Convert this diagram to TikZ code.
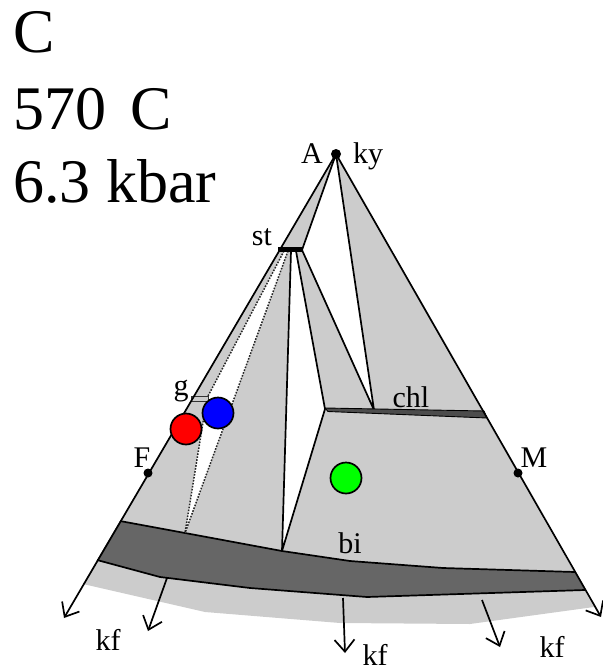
\documentclass[tikz,border=0pt]{standalone}
\usepackage{fontspec}
\setmainfont{Liberation Serif}
\usetikzlibrary{arrows.meta}
\definecolor{lg}{HTML}{CCCCCC}
\definecolor{dg}{HTML}{666666}
\begin{document}
\begin{tikzpicture}[x=1pt,y=-1pt,
  thinline/.style={line width=1.7pt, black},
  arr/.style={line width=1.7pt, -{Straight Barb[length=12pt,width=20pt]}},
  dots/.style={line width=1.5pt, dash pattern=on 1.6pt off 1.4pt, black!85},
  lab/.style={font=\fontsize{30}{30}\selectfont, anchor=base, inner sep=0pt},
  big/.style={font=\fontsize{62}{62}\selectfont, anchor=base west, inner sep=0pt},
  ball/.style={circle, draw=black, line width=1.7pt, minimum size=31pt, inner sep=0pt},
  pdot/.style={circle, fill=black, inner sep=0pt, minimum size=9pt}]
\useasboundingbox (0,0) rectangle (603,670);
% coordinates
\coordinate (A) at (336,154);
\coordinate (Ltip) at (64,618);
\coordinate (Rtip) at (601,617);
\coordinate (stR) at (302,250);
\coordinate (s1) at (291,251);
\coordinate (s2) at (296,251);
\coordinate (d1) at (284,251);
\coordinate (d2) at (288,251);
\coordinate (gR) at (207,398);
\coordinate (chlL) at (325,409);
\coordinate (chlM) at (374,410);
\coordinate (b1) at (185,533);
\coordinate (b2) at (282,551);
\coordinate (a1s) at (167,578);
\coordinate (a1e) at (148,631);
\coordinate (a2s) at (343,598);
\coordinate (a2e) at (345,653);
\coordinate (a3s) at (482,600);
\coordinate (a3e) at (500,647);
% light gray field
\fill[lg] (A) -- (594,607) -- (470,624) -- (340,623) -- (205,612) -- (83,584) -- cycle;
% dark band
\fill[dg] (120,521) -- (b1) -- (b2) -- (350,561) -- (443,568) -- (575,572) -- (585,590) -- (367,597) -- (250,588) -- (160,577) -- (97,560) -- cycle;
\draw[thinline] (120,521) -- (b1) -- (b2) -- (350,561) -- (443,568) -- (575,572);
\draw[thinline] (97,560) -- (160,577) -- (250,588) -- (367,597) -- (585,590);
% white fields
\fill[white] (A) -- (stR) -- (chlM) -- cycle;
\fill[white] (s1) -- (b2) -- (chlL) -- (s2) -- cycle;
\fill[white] (d1) -- (gR) -- (b1) -- (d2) -- cycle;
% tie lines
\draw[thinline] (A) -- (stR) (A) -- (chlM) (stR) -- (chlM) (s1) -- (b2) (s2) -- (chlL) -- (b2);
\draw[dots] (d1) -- (gR) -- (b1);
\draw[dots] (d2) -- (b1);
% chl bar
\filldraw[fill=black!70, draw=black, line width=0.9pt] (325,408) -- (484,411) -- (487,418) -- (328,411.5) -- cycle;
% st bar
\fill[black] (278,246.5) rectangle (303,252);
% g bar
\filldraw[fill=lg, draw=black!80, line width=1pt] (191,396.5) rectangle (208,401.5);
% edges and arrows
\draw[arr] (A) -- (Ltip);
\draw[arr] (A) -- (Rtip);
\draw[arr] (a1s) -- (a1e);
\draw[arr] (a2s) -- (a2e);
\draw[arr] (a3s) -- (a3e);
% points
\node[pdot, minimum size=10pt] (Adot) at (A) {};
\node[pdot] (Fdot) at (148,473) {};
\node[pdot] (Mdot) at (518,473) {};
% balls
\node[ball, fill=red] (red) at (186,429) {};
\node[ball, fill=blue] (blue) at (218,413) {};
\node[ball, fill=green] (green) at (346,478) {};
% labels
\node[lab] (lA) at (312,163) {A};
\node[lab] (lky) at (368,163) {ky};
\node[lab] (lst) at (262,245) {st};
\node[lab] (lg) at (181,395) {g};
\node[lab] (lF) at (142,467) {F};
\node[lab] (lM) at (534,467) {M};
\node[lab] (lchl) at (411,407) {chl};
\node[lab] (lbi) at (350,553) {bi};
\node[lab] (kf1) at (108,650) {kf};
\node[lab] (kf2) at (375,665) {kf};
\node[lab] (kf3) at (552,657) {kf};
% title
\node[big] (t1) at (13,52) {C};
\node[big] (t2) at (13,129) {570\hspace{0.4em}C};
\node[big] (t3) at (13,202) {6.3 kbar};
\end{tikzpicture}
\end{document}
